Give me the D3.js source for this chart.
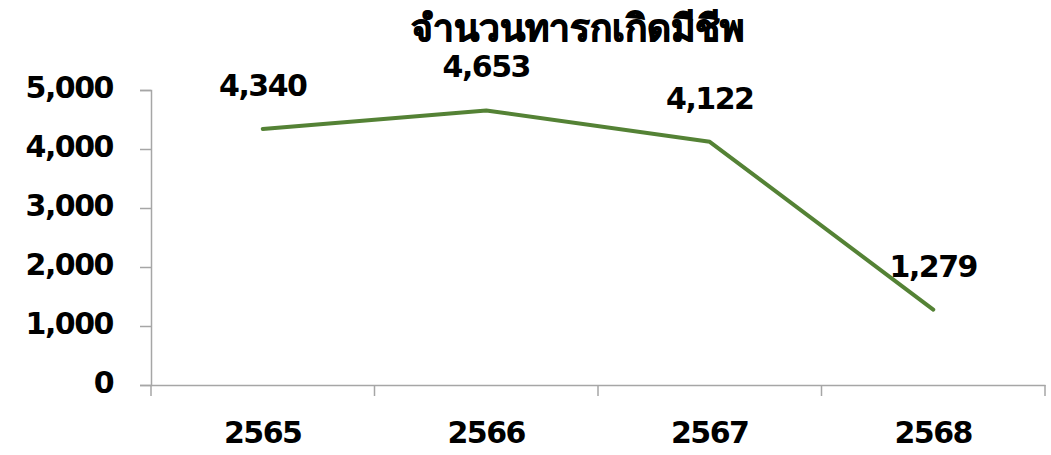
<!DOCTYPE html>
<html><head><meta charset="utf-8">
<script src="https://cdn.jsdelivr.net/npm/d3@7"></script>
<style>
body{margin:0;background:#fff;}
text{font-weight:900;fill:#000;}
text.num{font-family:"DejaVu Sans",sans-serif;font-weight:700;font-size:30px;letter-spacing:-1.5px;}
text.title{font-family:"Noto Sans","Lato",sans-serif;font-weight:900;font-size:37px;stroke:#000;stroke-width:1px;}
</style></head>
<body>
<svg id="c" width="1051" height="455"></svg>
<script>
const title = "จำนวนทารกเกิดมีชีพ";
const years = ["2565","2566","2567","2568"];
const births = [4340,4653,4122,1279];
const yTicks = [0,1000,2000,3000,4000,5000];

const svg = d3.select("#c");
const mLeft = 151, mRight = 1045, mTop = 90, mBottom = 385;
const x = d3.scaleBand().domain(years).range([mLeft,mRight]);
const y = d3.scaleLinear().domain([0,5000]).range([mBottom,mTop]);
const fmt = d3.format(",");

svg.append("text").attr("class","title").attr("x",577).attr("y",41).attr("text-anchor","middle")
  .text(title);

const ya = svg.append("g").attr("transform",`translate(${mLeft},0)`)
  .call(d3.axisLeft(y).tickValues(yTicks).tickFormat(fmt).tickSize(11).tickPadding(27));
ya.select(".domain").attr("stroke","#a6a6a6").attr("stroke-width",1.5);
ya.selectAll(".tick line").attr("stroke","#a6a6a6").attr("stroke-width",1.5);
ya.selectAll("text").attr("class","num").attr("dy","7px").attr("font-size",null).attr("font-family",null);

const xa = svg.append("g").attr("transform",`translate(0,${mBottom})`)
  .call(d3.axisBottom(x).tickSize(0).tickPadding(36));
xa.select(".domain").attr("stroke","#a6a6a6").attr("stroke-width",1.5);
xa.selectAll("text").attr("class","num").attr("dy","22px").attr("font-size",null).attr("font-family",null);
const bounds = years.map(d=>x(d)).concat([x(years[years.length-1])+x.bandwidth()]);
svg.append("g").selectAll("line").data(bounds).join("line")
  .attr("x1",d=>d).attr("x2",d=>d).attr("y1",mBottom).attr("y2",mBottom+11)
  .attr("stroke","#a6a6a6").attr("stroke-width",1.5);

const line = d3.line().x((d,i)=>x(years[i])+x.bandwidth()/2).y(d=>y(d));
svg.append("path").datum(births).attr("d",line).attr("fill","none")
  .attr("stroke","#548235").attr("stroke-width",4).attr("stroke-linecap","round").attr("stroke-linejoin","round");

svg.append("g").selectAll("text").data(births).join("text").attr("class","num")
  .attr("x",(d,i)=>x(years[i])+x.bandwidth()/2).attr("y",d=>y(d)-33)
  .attr("text-anchor","middle").text(d=>fmt(d));
</script></body></html>
